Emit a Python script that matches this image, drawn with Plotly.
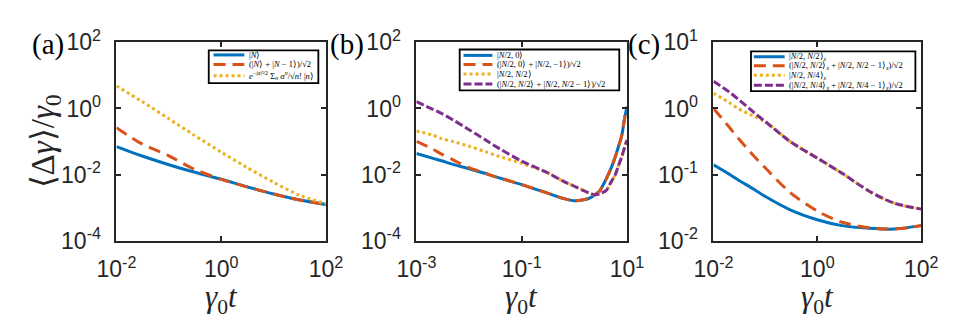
import plotly.graph_objects as go

# ---------------- data ----------------
# panel (a)
t_a = [0.01, 0.03, 0.1, 0.3, 1, 3, 10, 30, 100]
a_fock = [0.0708, 0.0372, 0.0200, 0.0120, 0.00724, 0.00437, 0.0026, 0.00174, 0.00126]
a_fock_sup = [0.263, 0.0871, 0.0372, 0.0148, 0.00724, 0.00437, 0.0026, 0.00174, 0.00126]
a_coherent = [4.79, 1.66, 0.490, 0.158, 0.0479, 0.0170, 0.00589, 0.00245, 0.00132]

# panel (b)
t_b = [0.001, 0.002, 0.003, 0.005, 0.01, 0.02, 0.03, 0.1, 0.3, 0.6, 1, 1.5, 2, 2.5,
       3, 4, 5, 6, 7, 8, 9, 10]
b_n20 = [0.0437, 0.0316, 0.0263, 0.0204, 0.0151, 0.0110, 0.00891, 0.00501, 0.00282,
         0.00195, 0.00162, 0.00174, 0.00200, 0.00251, 0.00316, 0.00724, 0.0158,
         0.0347, 0.0759, 0.158, 0.501, 1.12]
b_n20_sup = [0.102, 0.0603, 0.0417, 0.0280, 0.0162, 0.0110, 0.00891, 0.00501, 0.00282,
             0.00195, 0.00162, 0.00174, 0.00200, 0.00251, 0.00316, 0.00724, 0.0158,
             0.0347, 0.0759, 0.158, 0.501, 1.12]
b_nn = [0.209, 0.158, 0.123, 0.100, 0.0724, 0.0501, 0.0398, 0.0219, 0.0117, 0.00646,
        0.00447, 0.00331, 0.00269, 0.00251, 0.00263, 0.00331, 0.00603, 0.0100,
        0.0200, 0.0355, 0.0661, 0.112]
b_nn_sup = [1.62, 0.955, 0.708, 0.447, 0.229, 0.115, 0.0759, 0.0257, 0.0117, 0.00646,
            0.00447, 0.00331, 0.00269, 0.00251, 0.00263, 0.00331, 0.00603, 0.0100,
            0.0200, 0.0355, 0.0661, 0.112]

# panel (c)
t_c = [0.01, 0.02, 0.03, 0.06, 0.1, 0.3, 1, 3, 10, 30, 100]
c_nn = [0.141, 0.102, 0.0832, 0.0603, 0.0468, 0.0295, 0.0209, 0.0170, 0.0155, 0.0151, 0.0170]
c_nn_sup = [1.00, 0.525, 0.355, 0.191, 0.126, 0.0537, 0.0282, 0.0191, 0.0158, 0.0151, 0.0170]
c_n4 = [1.70, 1.23, 1.00, 0.759, 0.631, 0.316, 0.178, 0.105, 0.0562, 0.0372, 0.0302]
c_n4_sup = [2.57, 1.78, 1.38, 0.871, 0.631, 0.316, 0.178, 0.105, 0.0562, 0.0372, 0.0302]

labels_a = ["|<i>N</i>⟩",
            "(|<i>N</i>⟩ + |<i>N</i> − 1⟩)/√2",
            "<i>e</i><sup>−|<i>α</i>|²/2</sup> Σ<sub><i>n</i></sub> <i>α</i><sup><i>n</i></sup>/√<i>n</i>! |<i>n</i>⟩"]
labels_b = ["|<i>N</i>/2, 0⟩",
            "(|<i>N</i>/2, 0⟩ + |<i>N</i>/2, −1⟩)/√2",
            "|<i>N</i>/2, <i>N</i>/2⟩",
            "(|<i>N</i>/2, <i>N</i>/2⟩ + |<i>N</i>/2, <i>N</i>/2 − 1⟩)/√2"]
labels_c = ["|<i>N</i>/2, <i>N</i>/2⟩<sub><i>x</i></sub>",
            "(|<i>N</i>/2, <i>N</i>/2⟩<sub><i>x</i></sub> + |<i>N</i>/2, <i>N</i>/2 − 1⟩<sub><i>x</i></sub>)/√2",
            "|<i>N</i>/2, <i>N</i>/4⟩<sub><i>x</i></sub>",
            "(|<i>N</i>/2, <i>N</i>/4⟩<sub><i>x</i></sub> + |<i>N</i>/2, <i>N</i>/4 − 1⟩<sub><i>x</i></sub>)/√2"]

xt_a = [0.01, 1, 100]; xt_a_txt = ["10<sup>-2</sup>", "10<sup>0</sup>", "10<sup>2</sup>"]
xt_b = [0.001, 0.1, 10]; xt_b_txt = ["10<sup>-3</sup>", "10<sup>-1</sup>", "10<sup>1</sup>"]
yt_ab = [1e-4, 1e-2, 1, 100]; yt_ab_txt = ["10<sup>-4</sup>", "10<sup>-2</sup>", "10<sup>0</sup>", "10<sup>2</sup>"]
yt_c = [0.01, 0.1, 1, 10]; yt_c_txt = ["10<sup>-2</sup>", "10<sup>-1</sup>", "10<sup>0</sup>", "10<sup>1</sup>"]

# ---------------- styling ----------------
W, H = 959, 323
BLUE, ORANGE, YELLOW, PURPLE = "#0072BD", "#D95319", "#EDB120", "#7E2F8E"
DASHES = {"solid": "solid", "dash": "12px,7px", "dot": "3px,3px", "dashdot": "8px,3px"}
STYLES = [(BLUE, "solid"), (ORANGE, "dash"), (YELLOW, "dot"), (PURPLE, "dashdot")]
AXC = "#262626"
LW = 3
SANS = "Liberation Sans"
SERIF = "Liberation Serif"

def fx(px):
    return px / W

def fy(py):
    return 1 - py / H

panels = [
    dict(x=(92, 310), xr=[-2, 2], yr=[-4, 2], xt=(xt_a, xt_a_txt), yt=(yt_ab, yt_ab_txt),
         t=t_a, ys=[a_fock, a_fock_sup, a_coherent], labels=labels_a,
         leg=(188, 302, 28, 64), legrows=[33, 43.5, 56], legline=(193, 225), legtext=228,
         tag="(a)", tagx=21),
    dict(x=(404, 623), xr=[-3, 1], yr=[-4, 2], xt=(xt_b, xt_b_txt), yt=(yt_ab, yt_ab_txt),
         t=t_b, ys=[b_n20, b_n20_sup, b_nn, b_nn_sup], labels=labels_b,
         leg=(449, 615, 27, 72), legrows=[33.5, 43.5, 54, 65], legline=(453, 483), legtext=486,
         tag="(b)", tagx=332),
    dict(x=(713, 929), xr=[-2, 2], yr=[-2, 1], xt=(xt_a, xt_a_txt), yt=(yt_c, yt_c_txt),
         t=t_c, ys=[c_nn, c_nn_sup, c_n4, c_n4_sup], labels=labels_c,
         leg=(752, 923, 29, 73), legrows=[35, 45, 55.5, 66.5], legline=(755, 787), legtext=789,
         tag="(c)", tagx=641),
]

fig = go.Figure()
shapes, annos = [], []
Y_TOP, Y_BOT = 19, 238

for i, p in enumerate(panels):
    n = "" if i == 0 else str(i + 1)
    xa, ya = "x" + n, "y" + n
    for k, ys in enumerate(p["ys"]):
        col, ds = STYLES[k]
        fig.add_trace(go.Scatter(
            x=p["t"], y=ys, mode="lines", xaxis=xa, yaxis=ya, showlegend=False,
            line=dict(color=col, width=LW, dash=DASHES[ds], shape="spline", smoothing=0.8),
            name=p["labels"][k]))
    common = dict(type="log", showline=True, linecolor=AXC, linewidth=1.8, mirror="allticks",
                  ticks="inside", ticklen=5, tickwidth=1.5, tickcolor=AXC, showgrid=False,
                  zeroline=False, tickfont=dict(family=SANS, size=23, color=AXC))
    fig.layout["xaxis" + n] = dict(common, domain=[fx(p["x"][0]), fx(p["x"][1])], range=p["xr"],
                                   tickvals=p["xt"][0], ticktext=p["xt"][1], anchor=ya,
                                   ticklabelstandoff=7)
    fig.layout["yaxis" + n] = dict(common, domain=[fy(Y_BOT), fy(Y_TOP)], range=p["yr"],
                                   tickvals=p["yt"][0], ticktext=p["yt"][1], anchor=xa,
                                   ticklabelstandoff=9)
    # legend box
    x0, x1, y0, y1 = p["leg"]
    shapes.append(dict(type="rect", xref="paper", yref="paper", x0=fx(x0), x1=fx(x1),
                       y0=fy(y1), y1=fy(y0), line=dict(color="black", width=1.8),
                       fillcolor="white", layer="above"))
    for k, lab in enumerate(p["labels"]):
        col, ds = STYLES[k]
        ry = fy(p["legrows"][k])
        shapes.append(dict(type="line", xref="paper", yref="paper",
                           x0=fx(p["legline"][0]), x1=fx(p["legline"][1]), y0=ry, y1=ry,
                           line=dict(color=col, width=3, dash=DASHES[ds]), layer="above"))
        annos.append(dict(text=lab, xref="paper", yref="paper", x=fx(p["legtext"]), y=ry,
                          xanchor="left", yanchor="middle", showarrow=False,
                          font=dict(family=SERIF, size=8.5, color="black")))
    # x label
    cx = (p["x"][0] + p["x"][1]) / 2
    annos.append(dict(text="<i>γ</i><sub>0</sub><i>t</i>", xref="paper", yref="paper",
                      x=fx(cx), y=fy(302), xanchor="center", yanchor="middle", showarrow=False,
                      font=dict(family=SERIF, size=31, color=AXC)))
    # panel tag
    annos.append(dict(text=p["tag"], xref="paper", yref="paper", x=fx(p["tagx"]), y=fy(21),
                      xanchor="center", yanchor="middle", showarrow=False,
                      font=dict(family=SERIF, size=29, color="black")))

annos.append(dict(text="⟨Δ<i>γ</i>⟩/<i>γ</i><sub>0</sub>", xref="paper", yref="paper",
                  x=fx(18), y=fy(128), xanchor="center", yanchor="middle", textangle=-90,
                  showarrow=False, font=dict(family=SERIF, size=33, color=AXC)))

fig.update_layout(width=W, height=H, margin=dict(l=0, r=0, t=0, b=0),
                  plot_bgcolor="white", paper_bgcolor="white",
                  shapes=shapes, annotations=annos, showlegend=False)
fig.write_html("out.html")
